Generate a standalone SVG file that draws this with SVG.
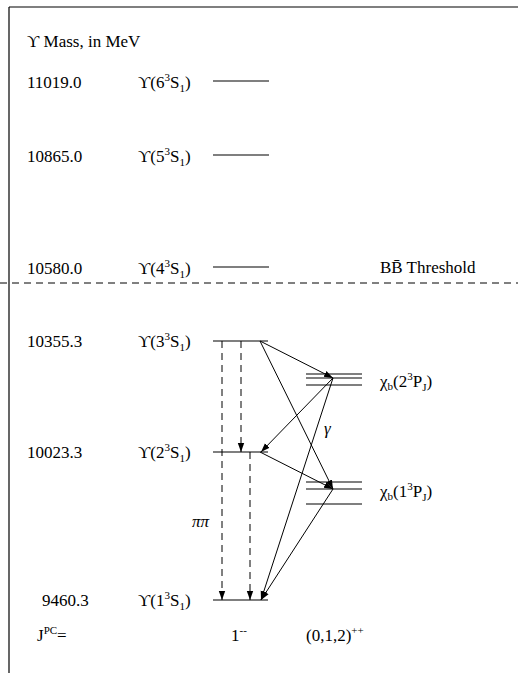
<svg xmlns="http://www.w3.org/2000/svg" width="518" height="673" viewBox="0 0 518 673" font-family="'Liberation Serif', 'Times New Roman', Tinos, 'DejaVu Serif', 'Noto Serif', serif">
<style>
text{font-family:'Liberation Serif','Times New Roman',Tinos,'DejaVu Serif','Noto Serif',serif;font-size:17px;fill:#000}
.sm{font-size:11px}
.lvl{stroke:#000;stroke-width:1.2}
.ar{stroke:#000;stroke-width:1;fill:none;marker-end:url(#ah)}
.da{stroke:#000;stroke-width:1;fill:none;stroke-dasharray:7 5;marker-end:url(#ah)}
</style>
<defs>
<marker id="ah" markerUnits="userSpaceOnUse" markerWidth="10" markerHeight="8" refX="9" refY="4" orient="auto">
<path d="M0,0.8 L9,4 L0,7.2 Z" fill="#000"/>
</marker>
</defs>
<rect width="518" height="673" fill="#fff"/>
<g id="frame" stroke="#000" stroke-width="1.2">
<line x1="9" y1="7" x2="518" y2="7"/>
<line x1="9" y1="7" x2="9" y2="673"/>
</g>
<text id="title" x="27" y="47">ϒ Mass, in MeV</text>
<g id="threshold">
<line x1="0" y1="283" x2="518" y2="283" stroke="#000" stroke-width="1" stroke-dasharray="7 5"/>
<text x="380" y="273">BB̄ Threshold</text>
</g>
<g id="u6"><text x="27" y="88">11019.0</text><text x="138" y="88">ϒ(6<tspan class="sm" dy="-7">3</tspan><tspan dy="7">S</tspan><tspan class="sm" dy="4">1</tspan><tspan dy="-4">)</tspan></text><line class="lvl" x1="213" y1="81" x2="269" y2="81"/></g>
<g id="u5"><text x="27" y="162">10865.0</text><text x="138" y="162">ϒ(5<tspan class="sm" dy="-7">3</tspan><tspan dy="7">S</tspan><tspan class="sm" dy="4">1</tspan><tspan dy="-4">)</tspan></text><line class="lvl" x1="213" y1="155" x2="269" y2="155"/></g>
<g id="u4"><text x="27" y="274">10580.0</text><text x="138" y="274">ϒ(4<tspan class="sm" dy="-7">3</tspan><tspan dy="7">S</tspan><tspan class="sm" dy="4">1</tspan><tspan dy="-4">)</tspan></text><line class="lvl" x1="213" y1="267" x2="269" y2="267"/></g>
<g id="u3"><text x="27" y="347">10355.3</text><text x="138" y="347">ϒ(3<tspan class="sm" dy="-7">3</tspan><tspan dy="7">S</tspan><tspan class="sm" dy="4">1</tspan><tspan dy="-4">)</tspan></text><line class="lvl" x1="213" y1="341" x2="268" y2="341"/></g>
<g id="u2"><text x="27" y="458">10023.3</text><text x="138" y="458">ϒ(2<tspan class="sm" dy="-7">3</tspan><tspan dy="7">S</tspan><tspan class="sm" dy="4">1</tspan><tspan dy="-4">)</tspan></text><line class="lvl" x1="213" y1="452" x2="268" y2="452"/></g>
<g id="u1"><text x="42" y="606">9460.3</text><text x="138" y="606">ϒ(1<tspan class="sm" dy="-7">3</tspan><tspan dy="7">S</tspan><tspan class="sm" dy="4">1</tspan><tspan dy="-4">)</tspan></text><line class="lvl" x1="213" y1="600" x2="268" y2="600"/></g>
<g id="chib2"><line class="lvl" x1="306" y1="374" x2="362" y2="374"/><line class="lvl" x1="306" y1="378" x2="362" y2="378"/><line class="lvl" x1="306" y1="385" x2="362" y2="385"/><text x="380" y="387">χ<tspan class="sm" dy="3">b</tspan><tspan dy="-3">(2</tspan><tspan class="sm" dy="-7">3</tspan><tspan dy="7">P</tspan><tspan class="sm" dy="4">J</tspan><tspan dy="-4">)</tspan></text></g>
<g id="chib1"><line class="lvl" x1="306" y1="482" x2="362" y2="482"/><line class="lvl" x1="306" y1="489" x2="362" y2="489"/><line class="lvl" x1="306" y1="504" x2="362" y2="504"/><text x="380" y="497">χ<tspan class="sm" dy="3">b</tspan><tspan dy="-3">(1</tspan><tspan class="sm" dy="-7">3</tspan><tspan dy="7">P</tspan><tspan class="sm" dy="4">J</tspan><tspan dy="-4">)</tspan></text></g>
<g id="connectors">
<line class="ar" x1="260" y1="341" x2="333" y2="378"/>
<line class="ar" x1="260" y1="341" x2="333" y2="489"/>
<line class="ar" x1="333" y1="378" x2="261" y2="452"/>
<line class="ar" x1="333" y1="378" x2="261" y2="600"/>
<line class="ar" x1="260" y1="452" x2="333" y2="489"/>
<line class="ar" x1="333" y1="489" x2="261" y2="600"/>
<line class="da" x1="222" y1="341" x2="222" y2="600"/>
<line class="da" x1="241" y1="341" x2="241" y2="452"/>
<line class="da" x1="250" y1="452" x2="250" y2="600"/>
<text x="324" y="434" font-style="italic">γ</text>
<text x="192" y="527" font-style="italic">ππ</text>
</g>
<g id="jpc">
<text x="37" y="641">J<tspan class="sm" dy="-7">PC</tspan><tspan dy="7">=</tspan></text>
<text x="231" y="641">1<tspan class="sm" dy="-7">--</tspan></text>
<text x="306" y="641">(0,1,2)<tspan class="sm" dy="-7">++</tspan></text>
</g>
</svg>
